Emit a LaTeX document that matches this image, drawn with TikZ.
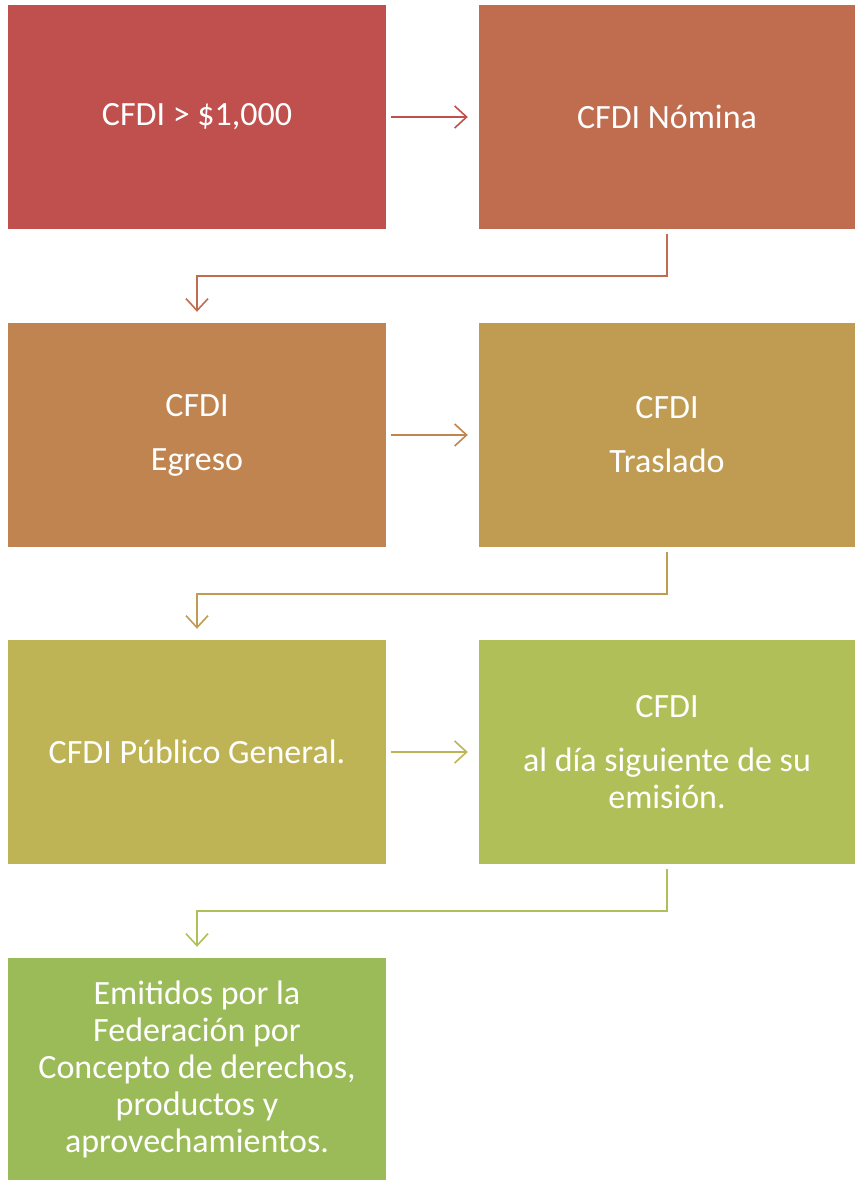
\documentclass[tikz,border=0pt]{standalone}
\usepackage{fontspec}
\setmainfont{Carlito}
\usetikzlibrary{arrows.meta}
\definecolor{c1}{HTML}{C0504D}
\definecolor{c2}{HTML}{C06C4F}
\definecolor{c3}{HTML}{C08450}
\definecolor{c4}{HTML}{BF9C52}
\definecolor{c5}{HTML}{BFB455}
\definecolor{c6}{HTML}{B1BF58}
\definecolor{c7}{HTML}{9BBB59}
\tikzset{
  box/.style={rectangle, inner sep=0pt, minimum width=378pt, minimum height=224pt,
    text=white, align=center, font=\fontsize{34}{37}\selectfont},
  rbox/.style={box, minimum width=376pt},
  conn/.style={line width=1.6pt, -{Straight Barb[length=12pt,width=22pt,line width=1.6pt]}},
}
\begin{document}
\begin{tikzpicture}[x=1pt,y=-1pt]
\useasboundingbox (0,0) rectangle (854,1180);
\node[box, fill=c1] (b1) at (197,117) {CFDI > \$1,000};
\node[rbox, fill=c2] (b2) at (667,117) {CFDI Nómina};
\node[box, fill=c3] (b3) at (197,435) {CFDI\\[17pt]Egreso};
\node[rbox, fill=c4] (b4) at (667,435) {CFDI\\[17pt]Traslado};
\node[box, fill=c5] (b5) at (197,752) {CFDI Público General.};
\node[rbox, fill=c6] (b6) at (667,752) {CFDI\\[17pt]al día siguiente de su\\emisión.};
\node[box, fill=c7, minimum height=222pt] (b7) at (197,1069) {Emitidos por la\\Federación por\\Concepto de derechos,\\productos y\\aprovechamientos.};
\draw[conn, c1] ([xshift=5pt]b1.east) -- ([xshift=-11pt]b2.west);
\draw[conn, c2] ([yshift=-5pt]b2.south) -- ++(0,42) -| ([yshift=11pt]b3.north);
\draw[conn, c3] ([xshift=5pt]b3.east) -- ([xshift=-11pt]b4.west);
\draw[conn, c4] ([yshift=-5pt]b4.south) -- ++(0,42) -| ([yshift=11pt]b5.north);
\draw[conn, c5] ([xshift=5pt]b5.east) -- ([xshift=-11pt]b6.west);
\draw[conn, c6] ([yshift=-5pt]b6.south) -- ++(0,42) -| ([yshift=11pt]b7.north);
\end{tikzpicture}
\end{document}
